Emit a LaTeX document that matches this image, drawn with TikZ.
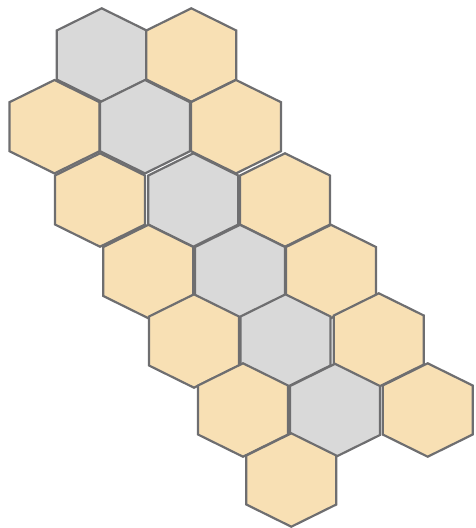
\documentclass[tikz,border=0pt]{standalone}
\usepackage{xcolor}
\usepackage{tikz}
\definecolor{cellgray}{HTML}{D9D9D9}
\definecolor{celltan}{HTML}{F8E0B4}
\definecolor{celledge}{HTML}{6E6E70}

\begin{document}
\begin{tikzpicture}[x=1pt, y=-1pt,
    cell/.style={draw=celledge, line width=2.2pt, line join=miter},
    greycell/.style={cell, fill=cellgray},
    tancell/.style={cell, fill=celltan}
]
    \useasboundingbox (0,0) rectangle (475,528);

    % honeycomb strip, row by row from the top
    \foreach \cx/\cy/\kind in {
        101.7/55/greycell, 191.3/55/tancell,
        54.5/126.7/tancell, 145/126.7/greycell, 236/126.7/tancell,
        100/200/tancell, 193.3/200/greycell, 285/200/tancell,
        148.3/271.5/tancell, 240/271.5/greycell, 331/271.5/tancell,
        194/341/tancell, 285.5/341/greycell, 378.8/340/tancell,
        243/410/tancell, 335/410.5/greycell, 427.7/410/tancell,
        291.3/480/tancell}
        \draw[\kind] (\cx,\cy) ++(0,-46.7) -- ++(45,22.2) -- ++(0,49)
            -- ++(-45,22.2) -- ++(-45,-22.2) -- ++(0,-49) -- cycle;
\end{tikzpicture}
\end{document}
